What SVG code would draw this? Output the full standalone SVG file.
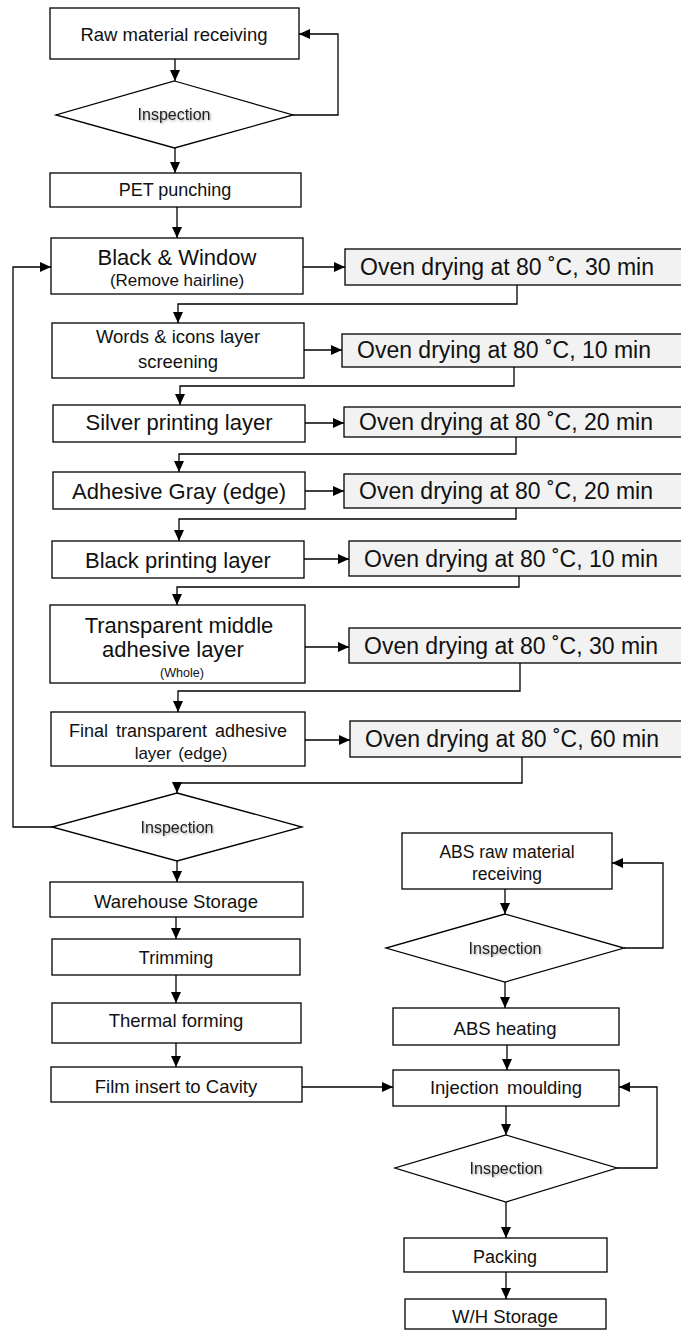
<svg xmlns="http://www.w3.org/2000/svg" width="681" height="1330" viewBox="0 0 681 1330">
<style>
  .box{fill:#fff;stroke:#000;stroke-width:1.3}
  .oven{fill:#f2f2f2;stroke:#000;stroke-width:1.3}
  .dia{fill:#fff;stroke:#000;stroke-width:1.3}
  .t{font-family:"Liberation Sans",Arial,sans-serif;fill:#111;text-anchor:middle}
  .ot{font-family:"Liberation Sans",Arial,sans-serif;fill:#111;font-size:23px}
  .insp{font-family:"Liberation Sans",Arial,sans-serif;fill:#222;text-anchor:middle;font-size:16px;filter:url(#sh)}
  .c{fill:none;stroke:#000;stroke-width:1.3}
  .ca{fill:none;stroke:#000;stroke-width:1.3;marker-end:url(#ah)}
</style>
<defs>
  <marker id="ah" markerUnits="userSpaceOnUse" markerWidth="11" markerHeight="10" refX="11" refY="5" orient="auto">
    <path d="M0,0 L11,5 L0,10 z" fill="#000"/>
  </marker>
  <filter id="sh" x="-20%" y="-40%" width="140%" height="180%">
    <feDropShadow dx="1" dy="1.2" stdDeviation="1" flood-color="#000" flood-opacity="0.35"/>
  </filter>
</defs>
<rect width="681" height="1330" fill="#fff"/>

<g id="connectors">
  <path class="ca" d="M175,59 V81"/>
  <path class="ca" d="M293,115 H338 V34 H299"/>
  <path class="ca" d="M175,148 V173"/>
  <path class="ca" d="M177,207 V238"/>
  <path class="ca" d="M303,267 H345"/>
  <path class="ca" d="M517,285 V304 H178 V323"/>
  <path class="ca" d="M304,350 H342"/>
  <path class="ca" d="M514,367 V386 H180 V405"/>
  <path class="ca" d="M305,423 H344"/>
  <path class="ca" d="M516,437 V454 H179 V472"/>
  <path class="ca" d="M305,491 H344"/>
  <path class="ca" d="M516,508 V519 H179 V541"/>
  <path class="ca" d="M304,559 H349"/>
  <path class="ca" d="M519,576 V587 H177 V605"/>
  <path class="ca" d="M305,647 H349"/>
  <path class="ca" d="M520,663 V691 H178 V712"/>
  <path class="ca" d="M305,740 H350"/>
  <path class="ca" d="M522,757 V783 H177 V793"/>
  <path class="ca" d="M52,827 H13 V267 H51"/>
  <path class="ca" d="M177,861 V882"/>
  <path class="ca" d="M176,917 V939"/>
  <path class="ca" d="M176,975 V1003"/>
  <path class="ca" d="M176,1043 V1067"/>
  <path class="ca" d="M302,1087 H393"/>
  <path class="ca" d="M505,889 V914"/>
  <path class="ca" d="M624,948 H663 V863 H612"/>
  <path class="ca" d="M505,982 V1008"/>
  <path class="ca" d="M507,1045 V1070"/>
  <path class="ca" d="M506,1106 V1135"/>
  <path class="ca" d="M617,1168 H657 V1087 H619"/>
  <path class="ca" d="M506,1202 V1238"/>
  <path class="ca" d="M506,1272 V1299"/>
</g>

<g id="raw">
  <rect class="box" x="50" y="8" width="249" height="51"/>
  <text class="t" x="174" y="41" font-size="18.5">Raw material receiving</text>
</g>
<g id="insp1">
  <polygon class="dia" points="174.5,81 293,115 174.5,148 56,115"/>
  <text class="insp" x="174" y="120">Inspection</text>
</g>
<g id="pet">
  <rect class="box" x="50" y="173" width="251" height="34"/>
  <text class="t" x="175" y="196" font-size="18">PET punching</text>
</g>
<g id="black-window">
  <rect class="box" x="51" y="238" width="252" height="56"/>
  <text class="t" x="177" y="265" font-size="22">Black &amp; Window</text>
  <text class="t" x="177" y="286" font-size="17">(Remove hairline)</text>
</g>
<g id="oven1">
  <rect class="oven" x="345" y="249" width="345" height="36"/>
  <text class="ot" x="360" y="275">Oven drying at 80 ˚C, 30 min</text>
</g>
<g id="words">
  <rect class="box" x="52" y="323" width="252" height="55"/>
  <text class="t" x="178" y="343" font-size="18.5">Words &amp; icons layer</text>
  <text class="t" x="178" y="368" font-size="18.5">screening</text>
</g>
<g id="oven2">
  <rect class="oven" x="342" y="334" width="348" height="33"/>
  <text class="ot" x="357" y="358">Oven drying at 80 ˚C, 10 min</text>
</g>
<g id="silver">
  <rect class="box" x="53" y="405" width="252" height="37"/>
  <text class="t" x="179" y="430" font-size="22">Silver printing layer</text>
</g>
<g id="oven3">
  <rect class="oven" x="344" y="407" width="346" height="30"/>
  <text class="ot" x="359" y="430">Oven drying at 80 ˚C, 20 min</text>
</g>
<g id="adhesive-gray">
  <rect class="box" x="53" y="472" width="252" height="37"/>
  <text class="t" x="179" y="499" font-size="22">Adhesive Gray (edge)</text>
</g>
<g id="oven4">
  <rect class="oven" x="344" y="474" width="346" height="34"/>
  <text class="ot" x="359" y="499">Oven drying at 80 ˚C, 20 min</text>
</g>
<g id="black-printing">
  <rect class="box" x="52" y="541" width="252" height="37"/>
  <text class="t" x="178" y="568" font-size="22">Black printing layer</text>
</g>
<g id="oven5">
  <rect class="oven" x="349" y="541" width="341" height="35"/>
  <text class="ot" x="364" y="567">Oven drying at 80 ˚C, 10 min</text>
</g>
<g id="transparent-middle">
  <rect class="box" x="50" y="605" width="255" height="78"/>
  <text class="t" x="179" y="633" font-size="22">Transparent middle</text>
  <text class="t" x="173" y="657" font-size="22">adhesive layer</text>
  <text class="t" x="182" y="677" font-size="12.5">(Whole)</text>
</g>
<g id="oven6">
  <rect class="oven" x="349" y="628" width="341" height="35"/>
  <text class="ot" x="364" y="654">Oven drying at 80 ˚C, 30 min</text>
</g>
<g id="final">
  <rect class="box" x="51" y="712" width="254" height="54"/>
  <text class="t" x="178" y="737" font-size="18" word-spacing="3">Final transparent adhesive</text>
  <text class="t" x="181" y="759" font-size="17" word-spacing="2">layer (edge)</text>
</g>
<g id="oven7">
  <rect class="oven" x="350" y="721" width="340" height="36"/>
  <text class="ot" x="365" y="747">Oven drying at 80 ˚C, 60 min</text>
</g>
<g id="insp2">
  <polygon class="dia" points="177,793 302,827 177,861 52,827"/>
  <text class="insp" x="177" y="833">Inspection</text>
</g>
<g id="warehouse">
  <rect class="box" x="50" y="882" width="253" height="35"/>
  <text class="t" x="176" y="908" font-size="18.5">Warehouse Storage</text>
</g>
<g id="trimming">
  <rect class="box" x="52" y="939" width="248" height="36"/>
  <text class="t" x="176" y="964" font-size="18">Trimming</text>
</g>
<g id="thermal">
  <rect class="box" x="52" y="1003" width="249" height="40"/>
  <text class="t" x="176" y="1027" font-size="18.5">Thermal forming</text>
</g>
<g id="film">
  <rect class="box" x="51" y="1067" width="251" height="35"/>
  <text class="t" x="176" y="1093" font-size="18.5">Film insert to Cavity</text>
</g>
<g id="abs-raw">
  <rect class="box" x="402" y="833" width="210" height="56"/>
  <text class="t" x="507" y="858" font-size="17.5">ABS raw material</text>
  <text class="t" x="507" y="880" font-size="17.5">receiving</text>
</g>
<g id="insp3">
  <polygon class="dia" points="505,914 624,948 505,982 386,948"/>
  <text class="insp" x="505" y="954">Inspection</text>
</g>
<g id="abs-heating">
  <rect class="box" x="393" y="1008" width="226" height="37"/>
  <text class="t" x="505" y="1035" font-size="18.5">ABS heating</text>
</g>
<g id="injection">
  <rect class="box" x="393" y="1070" width="226" height="36"/>
  <text class="t" x="506" y="1094" font-size="18.5" word-spacing="3">Injection moulding</text>
</g>
<g id="insp4">
  <polygon class="dia" points="506,1135 617,1168 506,1202 395,1168"/>
  <text class="insp" x="506" y="1174">Inspection</text>
</g>
<g id="packing">
  <rect class="box" x="404" y="1238" width="203" height="34"/>
  <text class="t" x="505" y="1263" font-size="18">Packing</text>
</g>
<g id="wh-storage">
  <rect class="box" x="405" y="1299" width="201" height="30"/>
  <text class="t" x="505" y="1323" font-size="18.5">W/H Storage</text>
</g>
</svg>
